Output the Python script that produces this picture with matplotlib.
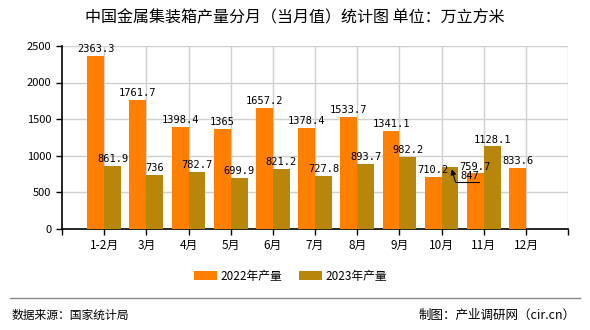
import matplotlib.pyplot as plt
import numpy as np

plt.rcParams['font.family'] = ['Noto Sans CJK SC', 'DejaVu Sans']

months = ['1-2月', '3月', '4月', '5月', '6月', '7月', '8月', '9月', '10月', '11月', '12月']
y2022 = [2363.3, 1761.7, 1398.4, 1365, 1657.2, 1378.4, 1533.7, 1341.1, 710.2, 759.7, 833.6]
y2023 = [861.9, 736, 782.7, 699.9, 821.2, 727.8, 893.7, 982.2, 847, 1128.1]

fig = plt.figure(figsize=(5.9, 3.3), dpi=100)
ax = fig.add_axes([0.105, 0.306, 0.858, 0.555])

x = np.arange(len(months))
w = 0.4
c22 = '#ff8000'
c23 = '#b8860b'
ax.bar(x - w / 2, y2022, w, color=c22, label='2022年产量', zorder=3)
ax.bar(x[:len(y2023)] + w / 2, y2023, w, color=c23, label='2023年产量', zorder=3)

lab_font = dict(fontsize=7.5, family=['DejaVu Sans Mono'])
for i, v in enumerate(y2022):
    ax.text(i - w / 2, v + 25, f'{v:g}', ha='center', va='bottom', zorder=5, **lab_font)
for i, v in enumerate(y2023):
    if i == 8:
        # label pushed aside with a callout line, like the original
        ax.text(i + 0.45, 655, f'{v:g}', ha='left', va='bottom', zorder=5, **lab_font)
        ax.plot([i + 0.33, i + 0.88], [640, 640], color='black', lw=0.8, zorder=5)
        ax.annotate('', xy=(i + 0.24, v - 30), xytext=(i + 0.33, 640), zorder=5,
                    arrowprops=dict(arrowstyle='-|>', color='black', lw=0.8,
                                    mutation_scale=8, shrinkA=0, shrinkB=0))
        continue
    ax.text(i + w / 2, v + 25, f'{v:g}', ha='center', va='bottom', zorder=5, **lab_font)

ax.set_xlim(-1, 11)
ax.set_ylim(0, 2500)
ax.set_yticks(range(0, 2501, 500))
ax.set_xticks(list(x) + [-1, 11])
ax.set_xticklabels(months + ['', ''])
ax.tick_params(axis='both', labelsize=8.5, length=4, width=1, color='black')
ax.tick_params(axis='y', labelsize=8)
for v in range(500, 2501, 500):
    ax.axhline(v, color='#d0d0d0', lw=1, zorder=1)
for v in list(x) + [11]:
    ax.axvline(v, color='#d0d0d0', lw=1, zorder=1)
for s in ['top', 'right']:
    ax.spines[s].set_visible(False)
ax.spines['left'].set_linewidth(1.2)
ax.spines['bottom'].set_linewidth(1.2)

fig.text(0.5, 0.945, '中国金属集装箱产量分月（当月值）统计图 单位：万立方米',
         ha='center', va='center', fontsize=11.5)

fig.legend(loc='center', bbox_to_anchor=(0.493, 0.163), ncol=2, frameon=False,
           fontsize=8.5, handlelength=1.9, handleheight=0.8, handletextpad=0.35,
           columnspacing=1.4)

fig.add_artist(plt.Line2D([0.017, 0.983], [0.097, 0.097], color='#888888', lw=1))
fig.text(0.02, 0.045, '数据来源：国家统计局', ha='left', va='center', fontsize=8.5)
fig.text(0.975, 0.045, '制图：产业调研网（cir.cn）', ha='right', va='center', fontsize=9)

fig.savefig('out.png', dpi=100)
